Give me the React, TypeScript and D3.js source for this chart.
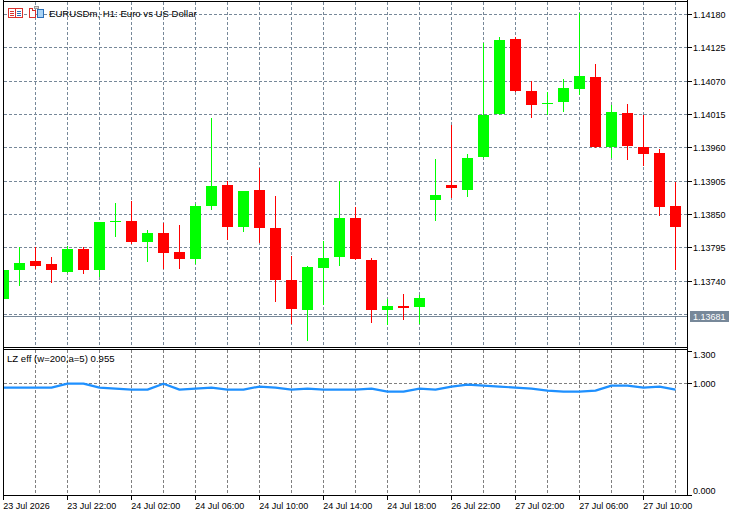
import React from 'react';
import * as d3 from 'd3';

// ---------- DATA ----------
const barIndex = d3.range(43);
const opens = [1.13709, 1.13758, 1.13772, 1.13767, 1.13754, 1.13792, 1.13758, 1.13836, 1.13838, 1.13804,
  1.13818, 1.13787, 1.13776, 1.13863, 1.13898, 1.13829, 1.13889, 1.13827, 1.13741, 1.13692,
  1.13761, 1.13779, 1.13843, 1.13774, 1.13692, 1.13698, 1.13697, 1.13873, 1.13898, 1.13889,
  1.13944, 1.14015, 1.14139, 1.14053, 1.14033, 1.14034, 1.14057, 1.14076, 1.13961, 1.14016,
  1.13960, 1.13950, 1.13863];
const highs = [1.13757, 1.13795, 1.13795, 1.13779, 1.13797, 1.13795, 1.13836, 1.13868, 1.13872, 1.13823,
  1.13835, 1.13832, 1.13866, 1.14008, 1.13904, 1.13888, 1.13926, 1.13879, 1.13780, 1.13764,
  1.13805, 1.13904, 1.13861, 1.13777, 1.13710, 1.13718, 1.13717, 1.13941, 1.13997, 1.13949,
  1.14132, 1.14142, 1.14142, 1.14070, 1.14052, 1.14073, 1.14181, 1.14097, 1.14030, 1.14031,
  1.14013, 1.13957, 1.13903];
const lows = [1.13709, 1.13732, 1.13761, 1.13738, 1.13754, 1.13753, 1.13748, 1.13814, 1.13802, 1.13773,
  1.13761, 1.13761, 1.13769, 1.13858, 1.13809, 1.13822, 1.13804, 1.13706, 1.13670, 1.13642,
  1.13702, 1.13766, 1.13776, 1.13672, 1.13668, 1.13677, 1.13670, 1.13840, 1.13878, 1.13880,
  1.13944, 1.14015, 1.14053, 1.14010, 1.14015, 1.14020, 1.14048, 1.13961, 1.13944, 1.13941,
  1.13931, 1.13849, 1.13759];
const closes = [1.13757, 1.13769, 1.13764, 1.13758, 1.13792, 1.13758, 1.13836, 1.13838, 1.13804, 1.13818,
  1.13786, 1.13776, 1.13863, 1.13896, 1.13829, 1.13888, 1.13827, 1.13741, 1.13693, 1.13762,
  1.13777, 1.13843, 1.13776, 1.13692, 1.13698, 1.13695, 1.13711, 1.13881, 1.13893, 1.13942,
  1.14013, 1.14137, 1.14053, 1.14030, 1.14033, 1.14058, 1.14078, 1.13961, 1.14018, 1.13962,
  1.13949, 1.13862, 1.13829];
const lzEff = [0.963, 0.963, 0.963, 0.963, 0.998, 0.998, 0.963, 0.954, 0.945, 0.945,
  0.998, 0.945, 0.954, 0.963, 0.945, 0.945, 0.972, 0.963, 0.945, 0.954,
  0.945, 0.945, 0.945, 0.954, 0.927, 0.927, 0.954, 0.945, 0.972, 0.990,
  0.981, 0.972, 0.963, 0.954, 0.936, 0.927, 0.927, 0.936, 0.981, 0.981,
  0.963, 0.972, 0.945];
const priceTicks = [1.14180, 1.14125, 1.14070, 1.14015, 1.13960, 1.13905, 1.13850, 1.13795, 1.13740];
const priceGridOnly = [1.13685];
const timeLabels = ['23 Jul 2026', '23 Jul 22:00', '24 Jul 02:00', '24 Jul 06:00', '24 Jul 10:00', '24 Jul 14:00',
  '24 Jul 18:00', '26 Jul 22:00', '27 Jul 02:00', '27 Jul 06:00', '27 Jul 10:00'];
const timeLabelBars = [0, 4, 8, 12, 16, 20, 24, 28, 32, 36, 40];
const gridBars = [2, 4, 6, 8, 10, 12, 14, 16, 18, 20, 22, 24, 26, 28, 30, 32, 34, 36, 38, 40, 42];
const currentPrice = 1.13681;
const indTicks = [1.3, 1.0, 0.0];
const indLevels = [1.0];
const title = 'EURUSDm, H1:  Euro vs US Dollar';
const indTitle = 'LZ eff (w=200,a=5) 0.955';

// ---------- LAYOUT ----------
const W = 736, H = 511;
const L = 3.5, R = 687.5;
const mainTop = 1.5, mainBottom = 347.5, indTop = 349.5, indBottom = 495.5;
const UP = '#00FF00', DOWN = '#FF0000', GRID = '#778899', IGRID = '#808080';
const FONT = '"Liberation Sans", Arial, sans-serif';

export default function App() {
  const x = d3.scaleLinear().domain([0, 42]).range([3.5, 675.5]);
  const y = d3.scaleLinear().domain([1.13685, 1.14180]).range([313.9, 14]);
  const yi = d3.scaleLinear().domain([0, 1.3]).range([495, 350]);
  const snap = (v: number) => Math.round(v) + 0.5;

  const line = d3.line<number>().x((_, i) => x(i)).y((d) => yi(d));

  return (
    <svg width={W} height={H} style={{ position: 'absolute', left: 0, top: 0, background: '#fff' }}
      fontFamily={FONT} shapeRendering="crispEdges">
      <defs>
        <clipPath id="mainClip"><rect x={4} y={2} width={683} height={345} /></clipPath>
        <clipPath id="indClip"><rect x={4} y={350} width={683} height={145} /></clipPath>
      </defs>
      <rect x={0} y={0} width={W} height={H} fill="#fff" />

      {/* main grid */}
      <g stroke={GRID} strokeDasharray="3,2">
        {gridBars.map((b) => (
          <line key={'vg' + b} x1={x(b)} x2={x(b)} y1={mainTop} y2={mainBottom} />
        ))}
        {[...priceTicks, ...priceGridOnly].map((p) => (
          <line key={'hg' + p} x1={L} x2={R} y1={snap(y(p))} y2={snap(y(p))} />
        ))}
      </g>
      {/* indicator grid */}
      <g stroke={IGRID} strokeDasharray="3,2">
        {gridBars.map((b) => (
          <line key={'ivg' + b} x1={x(b)} x2={x(b)} y1={indTop} y2={indBottom} />
        ))}
        {indLevels.map((v) => (
          <line key={'ihg' + v} x1={L} x2={R} y1={snap(yi(v))} y2={snap(yi(v))} />
        ))}
      </g>

      {/* current price line */}
      <line x1={L} x2={R} y1={snap(y(currentPrice))} y2={snap(y(currentPrice))} stroke={GRID} />

      {/* candles */}
      <g clipPath="url(#mainClip)">
        {barIndex.map((i) => {
          const o = opens[i], c = closes[i], h = highs[i], l = lows[i];
          const col = c >= o ? UP : DOWN;
          const cx = x(i);
          const top = Math.round(y(Math.max(o, c)));
          const bot = Math.round(y(Math.min(o, c)));
          return (
            <g key={'c' + i}>
              <line x1={cx} x2={cx} y1={Math.round(y(h))} y2={Math.round(y(l)) + 1} stroke={col} />
              <rect x={cx - 5.5} y={top} width={11} height={Math.max(1, bot - top)} fill={col} />
            </g>
          );
        })}
      </g>

      {/* indicator line */}
      <g clipPath="url(#indClip)">
        <path d={line(lzEff) || ''} fill="none" stroke="#1E90FF" strokeWidth={2.2}
          shapeRendering="auto" strokeLinejoin="round" />
      </g>

      {/* frames */}
      <g stroke="#000" fill="none">
        <line x1={L} x2={L} y1={0} y2={indBottom} />
        <line x1={L} x2={R} y1={mainTop} y2={mainTop} />
        <line x1={L} x2={R} y1={mainBottom} y2={mainBottom} />
        <line x1={L} x2={R} y1={indTop} y2={indTop} />
        <line x1={L} x2={R} y1={indBottom} y2={indBottom} />
        <line x1={R} x2={R} y1={0} y2={indBottom} />
      </g>

      {/* price axis */}
      <g>
        {priceTicks.map((p) => {
          const yy = snap(y(p));
          return (
            <g key={'pt' + p}>
              <line x1={R} x2={R + 4} y1={yy} y2={yy} stroke="#000" />
              <text x={693} y={yy + 3.3} fontSize={9} fill="#000">{p.toFixed(5)}</text>
            </g>
          );
        })}
        <rect x={690} y={snap(y(currentPrice)) - 5.5} width={39} height={11} fill={GRID} />
        <text x={693} y={snap(y(currentPrice)) + 3.3} fontSize={9} fill="#fff">{currentPrice.toFixed(5)}</text>
      </g>

      {/* indicator axis */}
      <g>
        {indTicks.map((v) => {
          const ty = Math.min(Math.max(snap(yi(v)), indTop + 2), indBottom);
          const ly = Math.min(Math.max(yi(v), indTop + 5), indBottom - 5);
          return (
            <g key={'it' + v}>
              <line x1={R} x2={R + 4} y1={ty} y2={ty} stroke="#000" />
              <text x={693} y={ly + 3.3} fontSize={9} fill="#000">{v.toFixed(3)}</text>
            </g>
          );
        })}
      </g>

      {/* time axis */}
      <g>
        {timeLabelBars.map((b, k) => (
          <g key={'tl' + b}>
            <line x1={x(b)} x2={x(b)} y1={indBottom} y2={indBottom + 4} stroke="#000" />
            <text x={Math.max(x(b) - 0.3, 3)} y={508.5} fontSize={9} fill="#000">{timeLabels[k]}</text>
          </g>
        ))}
      </g>

      {/* title & icons */}
      <g shapeRendering="crispEdges">
        <rect x={8.5} y={8.5} width={14} height={9} fill="#fff" stroke="#d8322e" />
        <line x1={15.5} x2={15.5} y1={9} y2={17} stroke="#d8322e" />
        {[11, 13, 15].map((yy) => (
          <g key={'ic' + yy}>
            <line x1={10} x2={14} y1={yy + 0.5} y2={yy + 0.5} stroke="#d8322e" />
            <line x1={17} x2={21} y1={yy + 0.5} y2={yy + 0.5} stroke="#2a6fb8" />
          </g>
        ))}
        <path d="M29.5,8.5 H32.5 V10.5 H35.5 V17.5 H29.5 Z" fill="#fff" stroke="#d8322e" />
        <rect x={34.5} y={6.5} width={4} height={2} fill="#ddd" stroke="#999" />
        <rect x={37.5} y={9.5} width={6} height={8} fill="#a9d3f5" stroke="#2a6fb8" />
      </g>
      <text x={49} y={16.5} fontSize={9.6} fill="#000">{title}</text>
      <text x={7} y={361.5} fontSize={9.6} fill="#000">{indTitle}</text>
    </svg>
  );
}
